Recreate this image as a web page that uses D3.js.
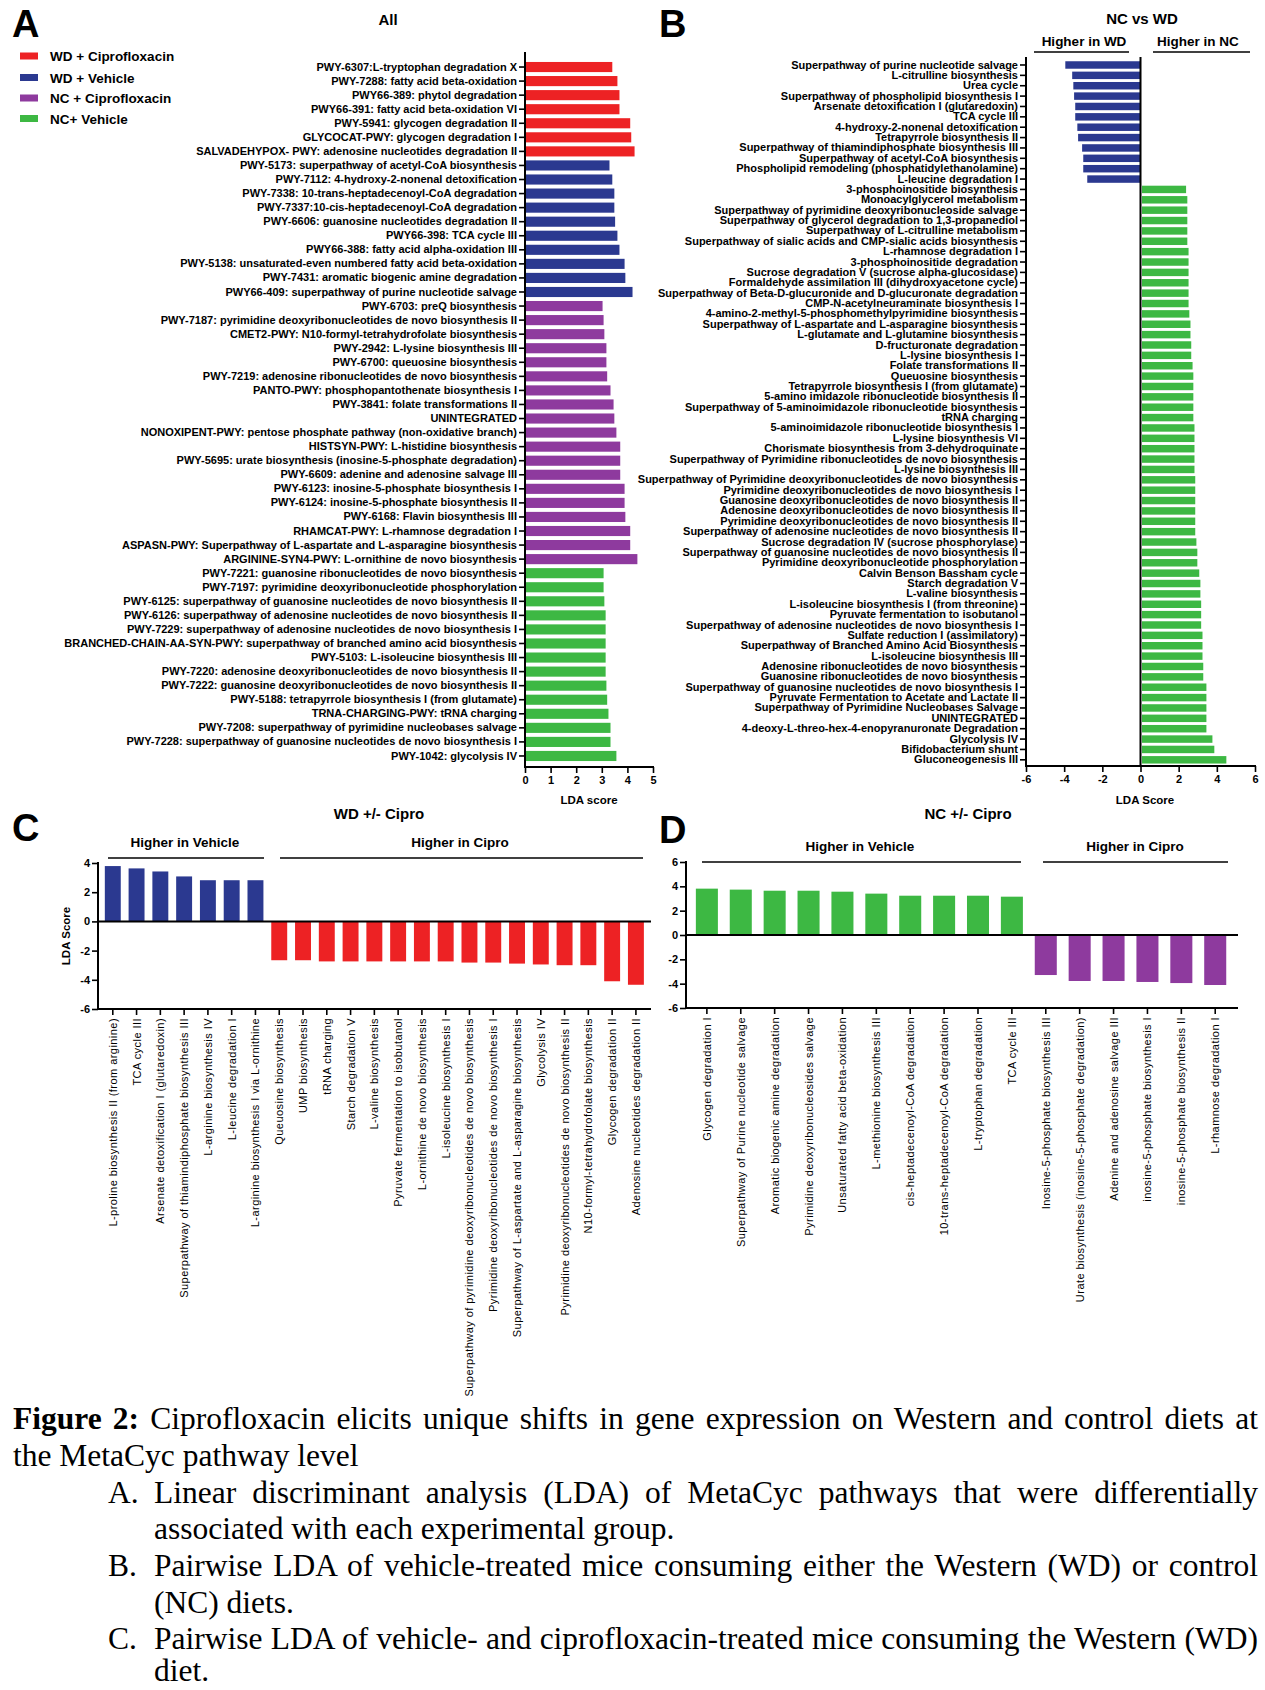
<!DOCTYPE html>
<html><head><meta charset="utf-8">
<script src="https://cdn.jsdelivr.net/npm/d3@7"></script>
<style>
body{margin:0;background:#fff;}
#wrap{position:relative;width:1265px;height:1690px;overflow:hidden;}
svg{position:absolute;left:0;top:0;}
.cap{position:absolute;font-family:"Liberation Serif","Times New Roman",serif;font-size:31.5px;line-height:30px;color:#000;white-space:nowrap;}
</style></head>
<body><div id="wrap"></div>
<script>
// ---------- DATA ----------
const legendLabels = ["WD + Ciprofloxacin","WD + Vehicle","NC + Ciprofloxacin","NC+ Vehicle"];
const groupColors = ["#ED2224","#2B3990","#8E3A9E","#3DB843"];

// Panel A
const aCatsWDC = ["PWY-6307:L-tryptophan degradation X","PWY-7288: fatty acid beta-oxidation","PWY66-389: phytol degradation","PWY66-391: fatty acid beta-oxidation VI","PWY-5941: glycogen degradation II","GLYCOCAT-PWY: glycogen degradation I","SALVADEHYPOX- PWY: adenosine nucleotides degradation II"];
const aValsWDC = [3.41,3.61,3.69,3.69,4.11,4.15,4.28];
const aCatsWDV = ["PWY-5173: superpathway of acetyl-CoA biosynthesis","PWY-7112: 4-hydroxy-2-nonenal detoxification","PWY-7338: 10-trans-heptadecenoyl-CoA degradation","PWY-7337:10-cis-heptadecenoyl-CoA degradation","PWY-6606: guanosine nucleotides degradation II","PWY66-398: TCA cycle III","PWY66-388: fatty acid alpha-oxidation III","PWY-5138: unsaturated-even numbered fatty acid beta-oxidation","PWY-7431: aromatic biogenic amine degradation","PWY66-409: superpathway of purine nucleotide salvage"];
const aValsWDV = [3.30,3.41,3.49,3.49,3.52,3.61,3.69,3.89,3.92,4.20];
const aCatsNCC = ["PWY-6703: preQ biosynthesis","PWY-7187: pyrimidine deoxyribonucleotides de novo biosynthesis II","CMET2-PWY: N10-formyl-tetrahydrofolate biosynthesis","PWY-2942: L-lysine biosynthesis III","PWY-6700: queuosine biosynthesis","PWY-7219: adenosine ribonucleotides de novo biosynthesis","PANTO-PWY: phosphopantothenate biosynthesis I","PWY-3841: folate transformations II","UNINTEGRATED","NONOXIPENT-PWY: pentose phosphate pathway (non-oxidative branch)","HISTSYN-PWY: L-histidine biosynthesis","PWY-5695: urate biosynthesis (inosine-5-phosphate degradation)","PWY-6609: adenine and adenosine salvage III","PWY-6123: inosine-5-phosphate biosynthesis I","PWY-6124: inosine-5-phosphate biosynthesis II","PWY-6168: Flavin biosynthesis III","RHAMCAT-PWY: L-rhamnose degradation I","ASPASN-PWY: Superpathway of L-aspartate and L-asparagine biosynthesis","ARGININE-SYN4-PWY: L-ornithine de novo biosynthesis"];
const aValsNCC = [3.03,3.07,3.10,3.18,3.18,3.21,3.34,3.46,3.49,3.57,3.72,3.72,3.72,3.89,3.89,3.92,4.11,4.11,4.39];
const aCatsNCV = ["PWY-7221: guanosine ribonucleotides de novo biosynthesis","PWY-7197: pyrimidine deoxyribonucleotide phosphorylation","PWY-6125: superpathway of guanosine nucleotides de novo biosynthesis II","PWY-6126: superpathway of adenosine nucleotides de novo biosynthesis II","PWY-7229: superpathway of adenosine nucleotides de novo biosynthesis I","BRANCHED-CHAIN-AA-SYN-PWY: superpathway of branched amino acid biosynthesis","PWY-5103: L-isoleucine biosynthesis III","PWY-7220: adenosine deoxyribonucleotides de novo biosynthesis II","PWY-7222: guanosine deoxyribonucleotides de novo biosynthesis II","PWY-5188: tetrapyrrole biosynthesis I (from glutamate)","TRNA-CHARGING-PWY: tRNA charging","PWY-7208: superpathway of pyrimidine nucleobases salvage","PWY-7228: superpathway of guanosine nucleotides de novo biosynthesis I","PWY-1042: glycolysis IV"];
const aValsNCV = [3.07,3.07,3.10,3.15,3.15,3.15,3.15,3.15,3.18,3.21,3.26,3.34,3.34,3.57];
const aTicks = [0,1,2,3,4,5];

// Panel B
const bCatsWD = ["Superpathway of purine nucleotide salvage","L-citrulline biosynthesis","Urea cycle","Superpathway of phospholipid biosynthesis I","Arsenate detoxification I (glutaredoxin)","TCA cycle III","4-hydroxy-2-nonenal detoxification","Tetrapyrrole biosynthesis II","Superpathway of thiamindiphosphate biosynthesis III","Superpathway of acetyl-CoA biosynthesis","Phospholipid remodeling (phosphatidylethanolamine)","L-leucine degradation I"];
const bValsWD = [-3.94,-3.58,-3.52,-3.48,-3.42,-3.42,-3.31,-3.27,-3.06,-3.00,-3.00,-2.79];
const bCatsNC = ["3-phosphoinositide biosynthesis","Monoacylglycerol metabolism","Superpathway of pyrimidine deoxyribonucleoside salvage","Superpathway of glycerol degradation to 1,3-propanediol","Superpathway of L-citrulline metabolism","Superpathway of sialic acids and CMP-sialic acids biosynthesis","L-rhamnose degradation I","3-phosphoinositide degradation","Sucrose degradation V (sucrose alpha-glucosidase)","Formaldehyde assimilation III (dihydroxyacetone cycle)","Superpathway of Beta-D-glucuronide and D-glucuronate degradation","CMP-N-acetylneuraminate biosynthesis I","4-amino-2-methyl-5-phosphomethylpyrimidine biosynthesis","Superpathway of L-aspartate and L-asparagine biosynthesis","L-glutamate and L-glutamine biosynthesis","D-fructuronate degradation","L-lysine biosynthesis I","Folate transformations II","Queuosine biosynthesis","Tetrapyrrole biosynthesis I (from glutamate)","5-amino imidazole ribonucleotide biosynthesis II","Superpathway of 5-aminoimidazole ribonucleotide biosynthesis","tRNA charging","5-aminoimidazole ribonucleotide biosynthesis I","L-lysine biosynthesis VI","Chorismate biosynthesis from 3-dehydroquinate","Superpathway of Pyrimidine ribonucleotides de novo biosynthesis","L-lysine biosynthesis III","Superpathway of Pyrimidine deoxyribonucleotides de novo biosynthesis","Pyrimidine deoxyribonucleotides de novo biosynthesis I","Guanosine deoxyribonucleotides de novo biosynthesis II","Adenosine deoxyribonucleotides de novo biosynthesis II","Pyrimidine deoxyribonucleotides de novo biosynthesis II","Superpathway of adenosine nucleotides de novo biosynthesis II","Sucrose degradation IV (sucrose phosphorylase)","Superpathway of guanosine nucleotides de novo biosynthesis II","Pyrimidine deoxyribonucleotide phosphorylation","Calvin Benson Bassham cycle","Starch degradation V","L-valine biosynthesis","L-isoleucine biosynthesis I (from threonine)","Pyruvate fermentation to isobutanol","Superpathway of adenosine nucleotides de novo biosynthesis I","Sulfate reduction I (assimilatory)","Superpathway of Branched Amino Acid Biosynthesis","L-isoleucine biosynthesis III","Adenosine ribonucleotides de novo biosynthesis","Guanosine ribonucleotides de novo biosynthesis","Superpathway of guanosine nucleotides de novo biosynthesis I","Pyruvate Fermentation to Acetate and Lactate II","Superpathway of Pyrimidine Nucleobases Salvage","UNINTEGRATED","4-deoxy-L-threo-hex-4-enopyranuronate Degradation","Glycolysis IV","Bifidobacterium shunt","Gluconeogenesis III"];
const bValsNC = [2.31,2.375,2.375,2.375,2.375,2.375,2.44,2.44,2.44,2.44,2.44,2.44,2.48,2.54,2.54,2.58,2.58,2.65,2.69,2.69,2.69,2.69,2.69,2.75,2.75,2.75,2.75,2.75,2.79,2.79,2.79,2.79,2.79,2.79,2.85,2.90,2.90,3.00,3.06,3.06,3.10,3.10,3.10,3.17,3.17,3.17,3.21,3.21,3.375,3.375,3.375,3.375,3.375,3.69,3.79,4.42];
const bTicks = [-6,-4,-2,0,2,4,6];

// Panel C
const cCatsVeh = ["L-proline biosynthesis II (from arginine)","TCA cycle III","Arsenate detoxification I (glutaredoxin)","Superpathway of thiamindiphosphate biosynthesis III","L-arginine biosynthesis IV","L-leucine degradation I","L-arginine biosynthesis I via L-ornithine"];
const cValsVeh = [3.79,3.63,3.42,3.08,2.82,2.82,2.82];
const cCatsCip = ["Queuosine biosynthesis","UMP biosynthesis","tRNA charging","Starch degradation V","L-valine biosynthesis","Pyruvate fermentation to isobutanol","L-ornithine de novo biosynthesis","L-isoleucine biosynthesis I","Superpathway of pyrimidine deoxyribonucleotides de novo biosynthesis","Pyrimidine deoxyribonucleotides de novo biosynthesis I","Superpathway of L-aspartate and L-asparagine biosynthesis","Glycolysis IV","Pyrimidine deoxyribonucleotides de novo biosynthesis II","N10-formyl-tetrahydrofolate biosynthesis","Glycogen degradation II","Adenosine nucleotides degradation II"];
const cValsCip = [-2.66,-2.66,-2.74,-2.74,-2.74,-2.74,-2.74,-2.74,-2.82,-2.82,-2.89,-2.95,-3.0,-3.0,-4.1,-4.34];
const cTicks = [4,2,0,-2,-4,-6];

// Panel D
const dCatsVeh = ["Glycogen degradation I","Superpathway of Purine nucleotide salvage","Aromatic biogenic amine degradation","Pyrimidine deoxyribonucleosides salvage","Unsaturated  fatty acid beta-oxidation","L-methionine biosynthesis III","cis-heptadecenoyl-CoA degradation","10-trans-heptadecenoyl-CoA degradation","L-tryptophan degradation","TCA cycle III"];
const dValsVeh = [3.81,3.73,3.64,3.64,3.56,3.40,3.23,3.23,3.23,3.15];
const dCatsCip = ["Inosine-5-phosphate biosynthesis III","Urate biosynthesis (inosine-5-phosphate degradation)","Adenine and adenosine salvage III","inosine-5-phosphate biosynthesis I","inosine-5-phosphate biosynthesis II","L-rhamnose degradation I"];
const dValsCip = [-3.29,-3.78,-3.78,-3.86,-3.95,-4.11];
const dTicks = [6,4,2,0,-2,-4,-6];

// ---------- DRAW ----------
const SANS = '"Liberation Sans", Arial, Helvetica, sans-serif';
const wrap = d3.select("#wrap");
const svg = wrap.append("svg").attr("width",1265).attr("height",1690)
  .style("font-family",SANS);

function styleAxis(g, size, weight){
  g.selectAll(".tick line").attr("stroke","#000").attr("stroke-width",1.6);
  g.selectAll(".tick text").attr("fill","#000").style("font-size",size+"px").style("font-weight",weight).style("font-family",SANS);
}
function line(x1,y1,x2,y2,w){
  svg.append("line").attr("x1",x1).attr("y1",y1).attr("x2",x2).attr("y2",y2)
    .attr("stroke","#000").attr("stroke-width",w||2);
}
function txt(x,y,s,size,opts){
  opts=opts||{};
  return svg.append("text").attr("x",x).attr("y",y).text(s)
    .style("font-size",size+"px").style("font-weight",opts.weight||"bold")
    .attr("text-anchor",opts.anchor||"middle").attr("fill","#000");
}
const fmt = d => String(d);

// panel letters
txt(12,37,"A",38,{anchor:"start"});
txt(659,37,"B",38,{anchor:"start"});
txt(12,841,"C",38,{anchor:"start"});
txt(659,843,"D",38,{anchor:"start"});

// ===== Panel A =====
const aRows = [].concat(
  aCatsWDC.map((c,i)=>({c,v:aValsWDC[i],g:0})),
  aCatsWDV.map((c,i)=>({c,v:aValsWDV[i],g:1})),
  aCatsNCC.map((c,i)=>({c,v:aValsNCC[i],g:2})),
  aCatsNCV.map((c,i)=>({c,v:aValsNCV[i],g:3})));
const xA = d3.scaleLinear().domain([0,5]).range([525,653]);
const yA = d3.scaleBand().domain(aRows.map(d=>d.c)).range([60,763]).paddingInner(0.28).paddingOuter(0.14);
txt(388,25,"All",15);
legendLabels.forEach((l,i)=>{
  const ly = [56,77.5,98,118.5][i];
  svg.append("rect").attr("x",20).attr("y",ly-3.5).attr("width",18).attr("height",7).attr("fill",groupColors[i]);
  txt(50,ly+5,l,13.5,{anchor:"start"});
});
svg.append("g").selectAll("rect").data(aRows).join("rect")
  .attr("x",xA(0)).attr("y",d=>yA(d.c)).attr("width",d=>xA(d.v)-xA(0)).attr("height",yA.bandwidth())
  .attr("fill",d=>groupColors[d.g]);
const gAy = svg.append("g").attr("transform",`translate(${xA(0)},0)`).call(d3.axisLeft(yA).tickSize(6).tickPadding(2));
gAy.select(".domain").remove(); styleAxis(gAy,11,"bold");
const gAx = svg.append("g").attr("transform","translate(0,767)").call(d3.axisBottom(xA).tickValues(aTicks).tickFormat(fmt).tickSize(6).tickSizeOuter(0).tickPadding(3));
gAx.select(".domain").remove(); styleAxis(gAx,11,"bold");
line(xA(0),52,xA(0),768); line(xA(0)-1,767,xA(5)+1,767);
txt(589,804,"LDA score",11.5);

// ===== Panel B =====
const bRows = [].concat(
  bCatsWD.map((c,i)=>({c,v:bValsWD[i],g:1})),
  bCatsNC.map((c,i)=>({c,v:bValsNC[i],g:3})));
const xB = d3.scaleLinear().domain([-6,6]).range([1026,1255]);
const yB = d3.scaleBand().domain(bRows.map(d=>d.c)).range([59.8,765]).paddingInner(0.28).paddingOuter(0.14);
svg.append("g").selectAll("rect").data(bRows).join("rect")
  .attr("x",d=>d.v<0? xB(d.v) : xB(0)+1.5).attr("y",d=>yB(d.c))
  .attr("width",d=>Math.abs(xB(d.v)-xB(0)))
  .attr("height",yB.bandwidth()).attr("fill",d=>groupColors[d.g]);
const gBy = svg.append("g").attr("transform",`translate(${xB(-6)},0)`).call(d3.axisLeft(yB).tickSize(6).tickPadding(2));
gBy.select(".domain").remove(); styleAxis(gBy,11,"bold");
const gBx = svg.append("g").attr("transform","translate(0,766)").call(d3.axisBottom(xB).tickValues(bTicks).tickFormat(fmt).tickSize(6).tickSizeOuter(0).tickPadding(3));
gBx.select(".domain").remove(); styleAxis(gBx,11,"bold");
line(xB(-6),57,xB(-6),767); line(xB(-6)-1,766,xB(6)+1,766); line(xB(0),57,xB(0),766);
txt(1142,24,"NC vs WD",15);
txt(1084,46,"Higher in WD",13.5); line(1034,52,1129,52,1.6);
txt(1198,46,"Higher in NC",13.5); line(1153,52,1250,52,1.6);
txt(1145,804,"LDA Score",11.5);

// ===== Panel C =====
const cRows = [].concat(
  cCatsVeh.map((c,i)=>({c,v:cValsVeh[i],g:1})),
  cCatsCip.map((c,i)=>({c,v:cValsCip[i],g:0})));
const yC = d3.scaleLinear().domain([-6,4]).range([1009,863]);
const xC = d3.scaleBand().domain(cRows.map(d=>d.c)).range([100.9,647.8]).paddingInner(0.33).paddingOuter(0.165);
svg.append("g").selectAll("rect").data(cRows).join("rect")
  .attr("x",d=>xC(d.c)).attr("width",xC.bandwidth())
  .attr("y",d=>yC(Math.max(0,d.v))).attr("height",d=>Math.abs(yC(d.v)-yC(0)))
  .attr("fill",d=>groupColors[d.g]);
const gCy = svg.append("g").attr("transform","translate(98,0)").call(d3.axisLeft(yC).tickValues(cTicks).tickFormat(fmt).tickSize(6).tickSizeOuter(0).tickPadding(2));
gCy.select(".domain").remove(); styleAxis(gCy,11,"bold");
const gCx = svg.append("g").attr("transform",`translate(0,${yC(-6)})`).call(d3.axisBottom(xC).tickSize(6).tickSizeOuter(0));
gCx.select(".domain").remove(); styleAxis(gCx,11,"normal");
gCx.selectAll(".tick text").attr("transform","rotate(-90)").attr("text-anchor","end")
  .attr("x",-9).attr("y",0).attr("dy","0.36em").style("letter-spacing","0.45px");
line(98,862,98,yC(-6)+1); line(97,yC(-6),651,yC(-6)); line(98,yC(0),651,yC(0));
svg.append("text").attr("transform",`translate(70,${yC(-1)}) rotate(-90)`).attr("text-anchor","middle")
  .style("font-size","11.5px").style("font-weight","bold").text("LDA Score");
txt(379,819,"WD +/- Cipro",15);
txt(185,847,"Higher in Vehicle",13.5); line(108,858,264,858,1.6);
txt(460,847,"Higher in Cipro",13.5); line(280,858,643,858,1.6);

// ===== Panel D =====
const dRows = [].concat(
  dCatsVeh.map((c,i)=>({c,v:dValsVeh[i],g:3})),
  dCatsCip.map((c,i)=>({c,v:dValsCip[i],g:2})));
const yD = d3.scaleLinear().domain([-6,6]).range([1008,862]);
const xD = d3.scaleBand().domain(dRows.map(d=>d.c)).range([690.1,1232]).paddingInner(0.35).paddingOuter(0.17);
svg.append("g").selectAll("rect").data(dRows).join("rect")
  .attr("x",d=>xD(d.c)).attr("width",xD.bandwidth())
  .attr("y",d=>yD(Math.max(0,d.v))).attr("height",d=>Math.abs(yD(d.v)-yD(0)))
  .attr("fill",d=>groupColors[d.g]);
const gDy = svg.append("g").attr("transform","translate(686,0)").call(d3.axisLeft(yD).tickValues(dTicks).tickFormat(fmt).tickSize(6).tickSizeOuter(0).tickPadding(2));
gDy.select(".domain").remove(); styleAxis(gDy,11,"bold");
const gDx = svg.append("g").attr("transform",`translate(0,${yD(-6)})`).call(d3.axisBottom(xD).tickSize(6).tickSizeOuter(0));
gDx.select(".domain").remove(); styleAxis(gDx,11,"normal");
gDx.selectAll(".tick text").attr("transform","rotate(-90)").attr("text-anchor","end")
  .attr("x",-9).attr("y",0).attr("dy","0.36em").style("letter-spacing","0.45px");
line(686,861,686,yD(-6)+1); line(685,yD(-6),1238,yD(-6)); line(686,yD(0),1238,yD(0));
txt(968,819,"NC +/- Cipro",15);
txt(860,851,"Higher in Vehicle",13.5); line(702,862,1021,862,1.6);
txt(1135,851,"Higher in Cipro",13.5); line(1043,862,1228,862,1.6);

// ===== Caption =====
const capLines = [
  {x:13,w:1245,t:1404,h:"<b>Figure 2:</b> Ciprofloxacin elicits unique shifts in gene expression on Western and control diets at"},
  {x:13,t:1441,h:"the MetaCyc pathway level"},
  {x:108,t:1478,h:"A."},{x:154,w:1104,t:1478,h:"Linear discriminant analysis (LDA) of MetaCyc pathways that were differentially"},
  {x:154,t:1514,h:"associated with each experimental group."},
  {x:108,t:1551,h:"B."},{x:154,w:1104,t:1551,h:"Pairwise LDA of vehicle-treated mice consuming either the Western (WD) or control"},
  {x:154,t:1588,h:"(NC) diets."},
  {x:108,t:1624,h:"C."},{x:154,w:1104,t:1624,h:"Pairwise LDA of vehicle- and ciprofloxacin-treated mice consuming the Western (WD)"},
  {x:154,t:1657,lh:27,h:"diet."}
];
capLines.forEach(l=>{
  const d = wrap.append("div").attr("class","cap")
    .style("left",l.x+"px").style("top",l.t+"px");
  if(l.lh) d.style("line-height",l.lh+"px");
  const s = d.append("span").html(l.h);
  if(l.w){
    const natural = s.node().getBoundingClientRect().width;
    const spaces = (s.node().textContent.match(/ /g)||[]).length;
    if(spaces>0) d.style("word-spacing",((l.w-natural)/spaces)+"px");
  }
});
</script>
</body></html>
